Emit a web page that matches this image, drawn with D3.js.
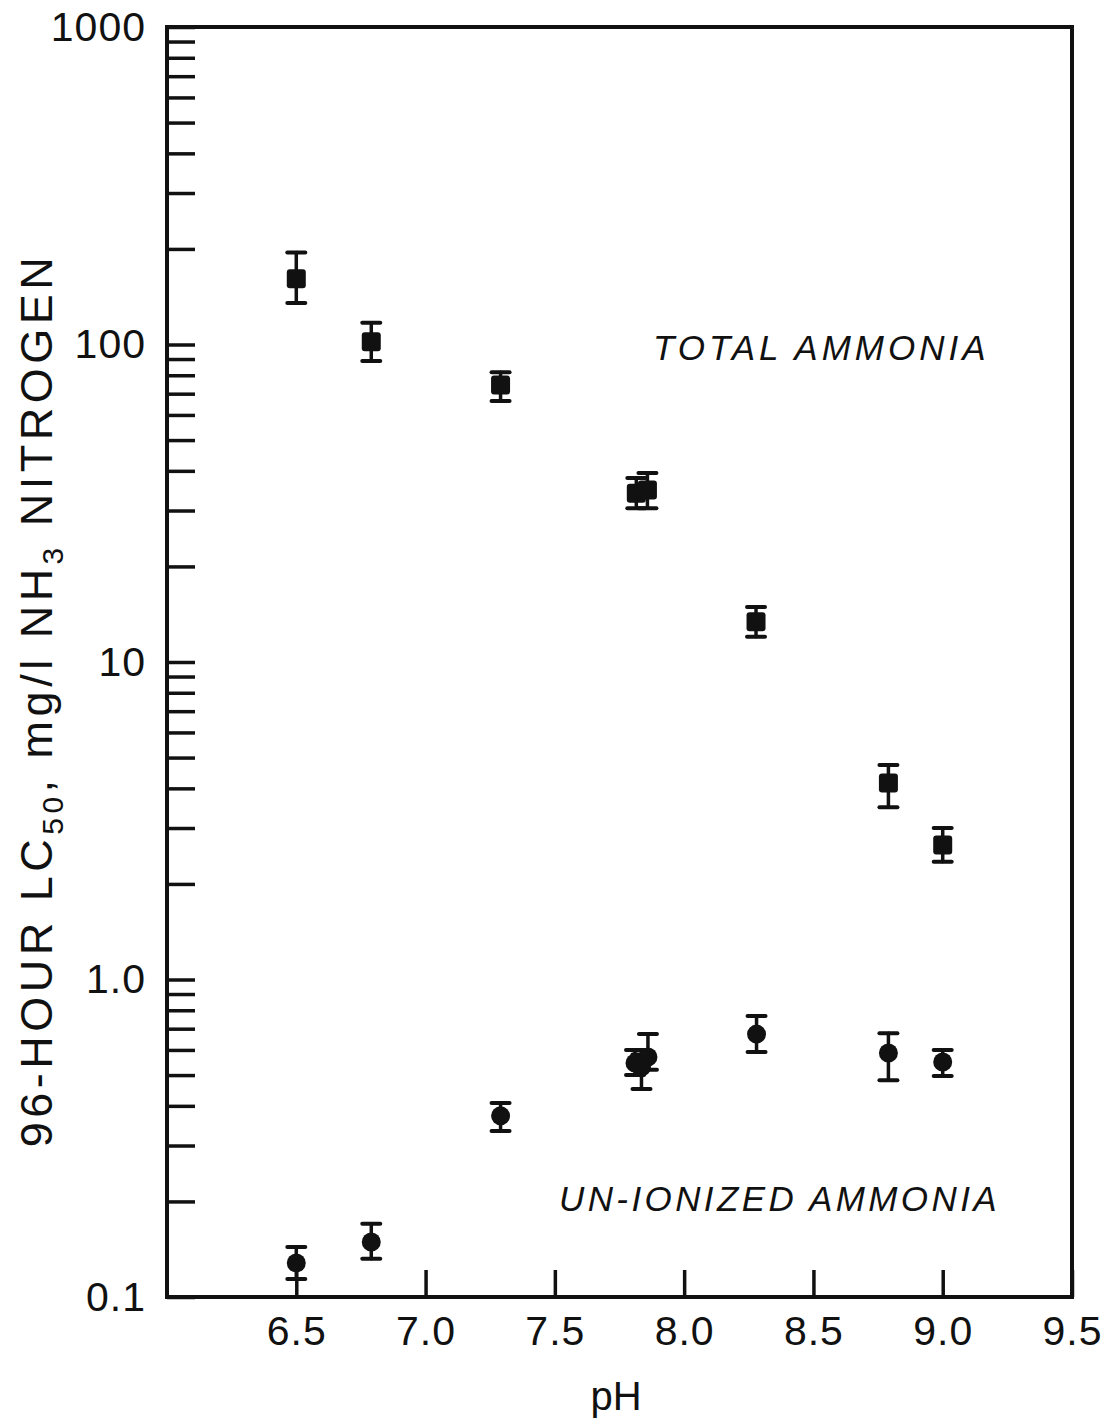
<!DOCTYPE html>
<html lang="en">
<head>
    <meta charset="UTF-8">
    <title>96-hour LC50 vs pH</title>
    <style>
        body { margin: 0; background: #fff; }
        text { font-family: "Liberation Sans", Arial, sans-serif; fill: #111; }
        .tick text { font-size: 41px; }
        .series-label { font-size: 35px; font-style: italic; letter-spacing: 4px; }
    </style>
</head>
<body>
    <svg width="1117" height="1424"></svg>

    <script src="https://d3js.org/d3.v7.min.js"></script>
    <script>
        // total ammonia (squares)
        const totalPH = [6.5, 6.79, 7.29, 7.815, 7.858, 8.278, 8.79, 9.0];
        const totalLC50 = [161, 102, 74.5, 34, 34.8, 13.4, 4.16, 2.65];
        const totalLow = [135, 88.7, 66.4, 30.5, 30.5, 12.0, 3.49, 2.35];
        const totalHigh = [195, 117, 81.8, 38, 39.4, 14.9, 4.74, 3.0];

        // un-ionized ammonia (circles)
        const unionPH = [6.5, 6.79, 7.29, 7.81, 7.835, 7.86, 8.28, 8.79, 9.0];
        const unionLC50 = [0.128, 0.149, 0.372, 0.546, 0.53, 0.57, 0.673, 0.587, 0.55];
        const unionLow = [0.114, 0.132, 0.333, 0.50, 0.452, 0.52, 0.591, 0.482, 0.497];
        const unionHigh = [0.1436, 0.170, 0.408, 0.60, 0.58, 0.673, 0.767, 0.677, 0.60];

        const xTicks = [6.5, 7.0, 7.5, 8.0, 8.5, 9.0, 9.5];
        const yMajor = [0.1, 1, 10, 100, 1000];
        const yMajorLabels = ['0.1', '1.0', '10', '100', '1000'];

        const mLeft = 167, mRight = 1072, mTop = 27, mBottom = 1297;

        const svg = d3.select('svg');

        const x = d3.scaleLinear().domain([6.0, 9.5]).range([mLeft, mRight]);
        const y = d3.scaleLog().domain([0.1, 1000]).range([mBottom, mTop]);

        // minor + major log ticks
        const yTickVals = [];
        yMajor.slice(0, -1).forEach(p => {
            for (let k = 1; k < 10; k++) yTickVals.push(+(p * k).toPrecision(3));
        });
        yTickVals.push(1000);

        const yAxis = d3.axisLeft(y)
            .tickValues(yTickVals)
            .tickSize(-28)
            .tickPadding(21)
            .tickFormat(d => {
                const i = yMajor.findIndex(m => Math.abs(m - d) < 1e-9);
                return i >= 0 ? yMajorLabels[i] : '';
            });

        const gy = svg.append('g')
            .attr('transform', `translate(${mLeft},0)`)
            .call(yAxis);
        gy.select('.domain').remove();
        gy.selectAll('.tick line').attr('stroke', '#111').attr('stroke-width', 3.5);
        gy.selectAll('.tick text').attr('letter-spacing', '1px');

        const xAxis = d3.axisBottom(x)
            .tickValues(xTicks)
            .tickSize(-27)
            .tickPadding(19)
            .tickFormat(d3.format('.1f'));

        const gx = svg.append('g')
            .attr('transform', `translate(0,${mBottom})`)
            .call(xAxis);
        gx.select('.domain').remove();
        gx.selectAll('.tick line').attr('stroke', '#111').attr('stroke-width', 3.5);
        gx.selectAll('.tick text').attr('letter-spacing', '1px');

        // frame
        svg.append('rect')
            .attr('x', mLeft).attr('y', mTop)
            .attr('width', mRight - mLeft).attr('height', mBottom - mTop)
            .attr('fill', 'none').attr('stroke', '#111').attr('stroke-width', 4);

        // error bars
        function errorBars(ph, lo, hi) {
            const g = svg.append('g').attr('stroke', '#111').attr('stroke-linecap', 'round');
            ph.forEach((p, i) => {
                g.append('line')
                    .attr('x1', x(p)).attr('x2', x(p))
                    .attr('y1', y(lo[i])).attr('y2', y(hi[i]))
                    .attr('stroke-width', 3.5);
                [lo[i], hi[i]].forEach(v => {
                    g.append('line')
                        .attr('x1', x(p) - 9).attr('x2', x(p) + 9)
                        .attr('y1', y(v)).attr('y2', y(v))
                        .attr('stroke-width', 4);
                });
            });
        }
        errorBars(totalPH, totalLow, totalHigh);
        errorBars(unionPH, unionLow, unionHigh);

        svg.append('g').selectAll('rect')
            .data(totalPH)
            .join('rect')
            .attr('x', d => x(d) - 9.5)
            .attr('y', (d, i) => y(totalLC50[i]) - 9.5)
            .attr('width', 19).attr('height', 19)
            .attr('rx', 3)
            .attr('fill', '#111');

        svg.append('g').selectAll('circle')
            .data(unionPH)
            .join('circle')
            .attr('cx', d => x(d))
            .attr('cy', (d, i) => y(unionLC50[i]))
            .attr('r', 9.5)
            .attr('fill', '#111');

        // series labels
        svg.append('text').attr('class', 'series-label')
            .attr('x', 653).attr('y', 360)
            .text('TOTAL AMMONIA');
        svg.append('text').attr('class', 'series-label')
            .attr('x', 559).attr('y', 1211)
            .attr('letter-spacing', '3.4px')
            .style('letter-spacing', '3.4px')
            .text('UN-IONIZED AMMONIA');

        // axis titles
        svg.append('text')
            .attr('x', 616).attr('y', 1410)
            .attr('text-anchor', 'middle')
            .attr('font-size', 40)
            .text('pH');

        const yt = svg.append('text')
            .attr('transform', 'translate(52,700) rotate(-90)')
            .attr('text-anchor', 'middle')
            .attr('font-size', 45)
            .attr('letter-spacing', '4.5px');
        yt.append('tspan').text('96-HOUR LC');
        yt.append('tspan').attr('font-size', 30).attr('dy', 11).text('50');
        yt.append('tspan').attr('dy', -11).text(',  mg/l NH');
        yt.append('tspan').attr('font-size', 30).attr('dy', 11).text('3');
        yt.append('tspan').attr('dy', -11).text(' NITROGEN');
    </script>
</body>
</html>
